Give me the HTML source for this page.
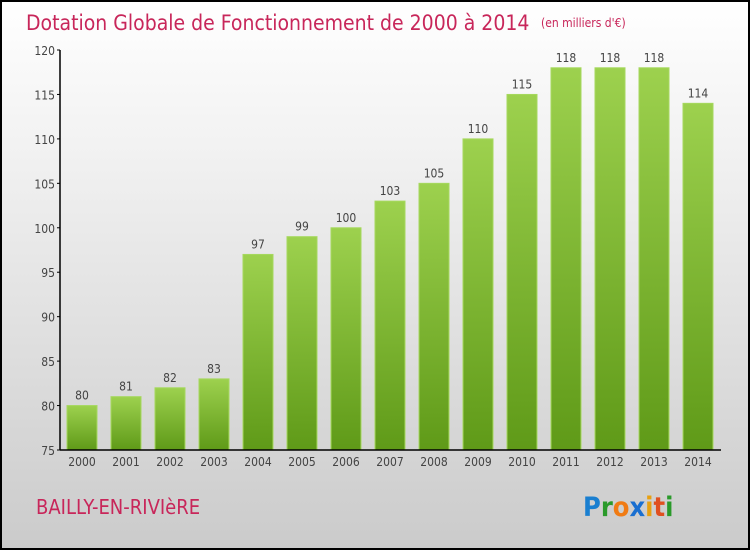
<!DOCTYPE html>
<html><head><meta charset="utf-8"><style>
body{margin:0}
#wrap{position:relative;width:746px;height:546px;border:2px solid #000;background:linear-gradient(#fff,#f0f0f0 30%,#cbcbcb);overflow:hidden;font-family:"DejaVu Sans Condensed","Liberation Sans",sans-serif}
</style></head><body>
<div id="wrap">
<svg id="svg" width="746" height="546" style="position:absolute;left:0;top:0"></svg>
</div>
<script>
const years=["2000","2001","2002","2003","2004","2005","2006","2007","2008","2009","2010","2011","2012","2013","2014"];
const values=[80,81,82,83,97,99,100,103,105,110,115,118,118,118,114];
const yTicks=[75,80,85,90,95,100,105,110,115,120];
const NS="http://www.w3.org/2000/svg";
const svg=document.getElementById('svg');
const ox=-2,oy=-2;
function y(v){return 450+oy-(v-75)*(400/45);}
function x(i){return 82+ox+i*44;}
function mk(t,a,txt){const e=document.createElementNS(NS,t);for(const k in a)e.setAttribute(k,a[k]);if(txt!==undefined)e.textContent=txt;svg.appendChild(e);return e;}
const defs=mk('defs',{});
defs.innerHTML='<linearGradient id="g" x1="0" y1="0" x2="0" y2="1"><stop offset="0" stop-color="#9dd14e"/><stop offset="1" stop-color="#5f9a18"/></linearGradient>';
let t=mk('text',{x:26+ox,y:30+oy,'font-size':21,fill:'#c8265a'},'Dotation Globale de Fonctionnement de 2000 à 2014');

t=mk('text',{x:541+ox,y:27+oy,'font-size':12,fill:'#c8265a'},'(en milliers d\'€)');

values.forEach((v,i)=>{
 const r=mk('rect',{x:x(i)-15,y:y(v),width:30,height:y(75)-y(v),fill:'url(#g)',stroke:'#a6d85e','stroke-width':1});
 
 const l=mk('text',{x:x(i),y:y(v)-6,'font-size':12,fill:'#444','text-anchor':'middle'},String(v));
 
 const xl=mk('text',{x:x(i),y:466+oy,'font-size':12,fill:'#444','text-anchor':'middle'},years[i]);
 
});
yTicks.forEach(v=>{
 const tl=mk('text',{x:55+ox,y:y(v)+5,'font-size':12,fill:'#444','text-anchor':'end'},String(v));
 
 mk('line',{x1:57+ox,x2:60+ox,y1:y(v),y2:y(v),stroke:'#000'});
});
let a=mk('line',{x1:60+ox,x2:60+ox,y1:y(120),y2:y(75),stroke:'#000','stroke-width':1.5});

a=mk('line',{x1:60+ox,x2:721+ox,y1:y(75),y2:y(75),stroke:'#000','stroke-width':1.5});

t=mk('text',{x:36+ox,y:514+oy,'font-size':20,fill:'#c8265a'},'BAILLY-EN-RIVIèRE');

const logo=mk('text',{x:583+ox,y:516+oy,'font-size':27,'font-weight':'bold'});
logo.innerHTML='<tspan fill="#1a7fd0">P</tspan><tspan fill="#2a9a2a">r</tspan><tspan fill="#f07b14">o</tspan><tspan fill="#1a6fd0">x</tspan><tspan fill="#e8a010">i</tspan><tspan fill="#e05020">t</tspan><tspan fill="#2a9a2a">i</tspan>';

</script>
</body></html>
